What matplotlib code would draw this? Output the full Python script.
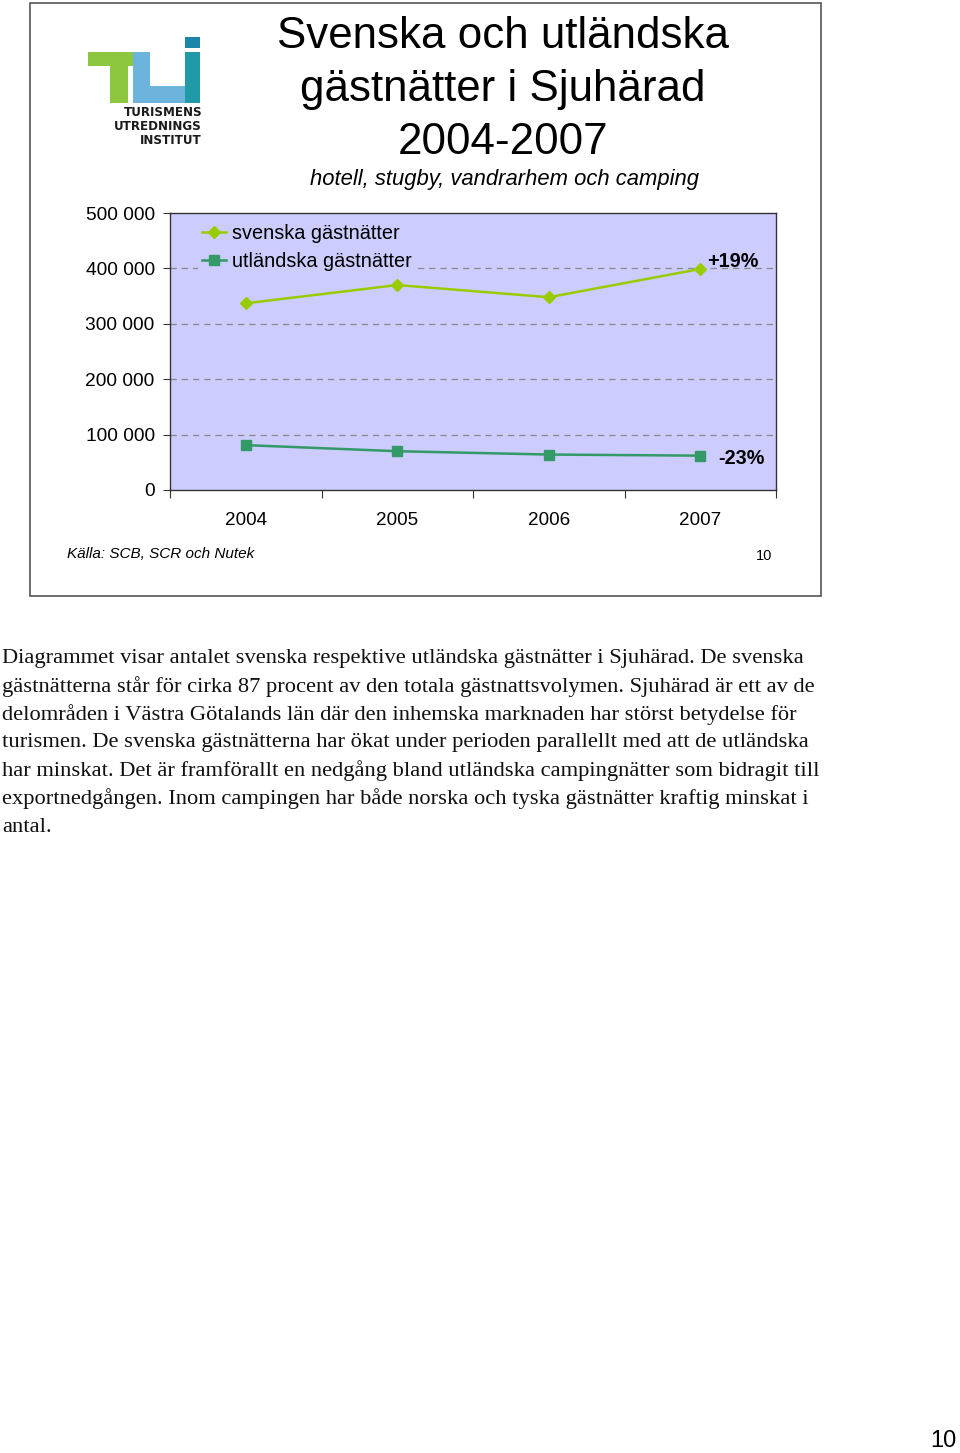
import numpy as np
import matplotlib.pyplot as plt
from matplotlib.patches import Rectangle, Polygon

# data
years = ['2004', '2005', '2006', '2007']
svenska = [337000, 370000, 348000, 399000]
utlandska = [81000, 70000, 64000, 62000]
yticks = [0, 100000, 200000, 300000, 400000, 500000]
ytick_labels = ['0', '100 000', '200 000', '300 000', '400 000', '500 000']

W, H = 960, 1453
fig = plt.figure(figsize=(W / 100, H / 100), dpi=100)
fig.patch.set_facecolor('white')


def fx(x):
    return x / W


def fy(y):
    return 1 - y / H


# slide frame
fig.patches.append(Rectangle((fx(30), fy(596)), fx(821) - fx(30), fy(3) - fy(596),
                             transform=fig.transFigure, fill=False,
                             edgecolor='#555555', lw=1.2))

# logo (rough shapes)
def poly(pts, color):
    fig.patches.append(Polygon([(fx(a), fy(b)) for a, b in pts], closed=True,
                               transform=fig.transFigure, facecolor=color,
                               edgecolor='none'))


poly([(88, 52), (150, 52), (150, 66), (88, 66)], '#8dc63f')
poly([(110, 52), (128, 52), (128, 103), (110, 103)], '#8dc63f')
poly([(133, 52), (150, 52), (150, 86), (185, 86), (185, 52), (200, 52),
      (200, 103), (133, 103)], '#6cb4dc')
poly([(185, 52), (200, 52), (200, 103), (185, 103)], '#1f9aa6')
poly([(185, 37), (200, 37), (200, 48), (185, 48)], '#1b86a8')
for yy, s in [(113, 'TURISMENS'), (127, 'UTREDNINGS'), (141, 'INSTITUT')]:
    fig.text(fx(202), fy(yy), s, ha='right', va='center', fontsize=8.6,
             fontweight='bold', color='#1a1a1a', family='DejaVu Sans')

# titles
for yy, s in [(36, 'Svenska och utländska'), (89, 'gästnätter i Sjuhärad'),
              (142, '2004-2007')]:
    fig.text(fx(503), fy(yy), s, ha='center', va='center', fontsize=31.6,
             family='Liberation Sans')
fig.text(fx(504), fy(180), 'hotell, stugby, vandrarhem och camping', ha='center',
         va='center', fontsize=15.8, style='italic', family='Liberation Sans')

# chart
ax = fig.add_axes([fx(170), fy(490), fx(776) - fx(170), fy(213) - fy(490)])
ax.set_facecolor('#ccccff')
x = np.arange(len(years)) + 0.5
ax.plot(x, svenska, color='#99cc00', marker='D', markersize=6, lw=1.8,
        label='svenska gästnätter')
ax.plot(x, utlandska, color='#339966', marker='s', markersize=7, lw=1.8,
        label='utländska gästnätter')
ax.set_xlim(0, 4)
ax.set_ylim(0, 500000)
ax.set_yticks(yticks)
ax.set_yticklabels(ytick_labels, family='Liberation Sans', fontsize=13.8)
for v in yticks[1:-1]:
    ax.axhline(v, color='#888888', lw=0.9, ls=(0, (5, 4)), zorder=0)
ax.set_xticks([0, 1, 2, 3, 4])
ax.set_xticklabels([])
ax.set_xticks(x, minor=True)
ax.set_xticklabels(years, minor=True, family='Liberation Sans', fontsize=13.6)
ax.tick_params(axis='x', which='major', length=6, direction='out', color='#333333')
ax.tick_params(axis='x', which='minor', length=0, pad=16)
ax.tick_params(axis='y', length=5, direction='out', pad=6, color='#333333')
for s in ax.spines.values():
    s.set_color('#333333')
    s.set_linewidth(1)

ax.text(3.545, 412000, '+19%', fontsize=14.3, fontweight='bold', va='center',
        family='Liberation Sans')
ax.text(3.62, 56000, '-23%', fontsize=14.3, fontweight='bold', va='center',
        family='Liberation Sans')

leg = ax.legend(loc='upper left', bbox_to_anchor=(0.047, 0.975), frameon=True,
                facecolor='#ccccff', edgecolor='none', framealpha=1,
                prop={'family': 'Liberation Sans', 'size': 14.3},
                handlelength=1.2, handletextpad=0.3, borderpad=0.2,
                labelspacing=0.45, borderaxespad=0)
leg.get_frame().set_linewidth(0)

fig.text(fx(67), fy(554), 'Källa: SCB, SCR och Nutek', ha='left', va='center',
         fontsize=11, style='italic', family='Liberation Sans')
fig.text(fx(764), fy(556), '10', ha='center', va='center', fontsize=10.5,
         family='Liberation Sans')

# body text
body = ['Diagrammet visar antalet svenska respektive utländska gästnätter i Sjuhärad. De svenska',
        'gästnätterna står för cirka 87 procent av den totala gästnattsvolymen. Sjuhärad är ett av de',
        'delområden i Västra Götalands län där den inhemska marknaden har störst betydelse för',
        'turismen. De svenska gästnätterna har ökat under perioden parallellt med att de utländska',
        'har minskat. Det är framförallt en nedgång bland utländska campingnätter som bidragit till',
        'exportnedgången. Inom campingen har både norska och tyska gästnätter kraftig minskat i',
        'antal.']
for i, line in enumerate(body):
    fig.text(fx(2), fy(658 + 28.2 * i), line, ha='left', va='center',
             fontsize=16.2, family='Liberation Serif', color='#111111')

fig.text(fx(957), fy(1441), '10', ha='right', va='center', fontsize=17,
         family='Liberation Sans')

fig.savefig('out.png', dpi=100)
